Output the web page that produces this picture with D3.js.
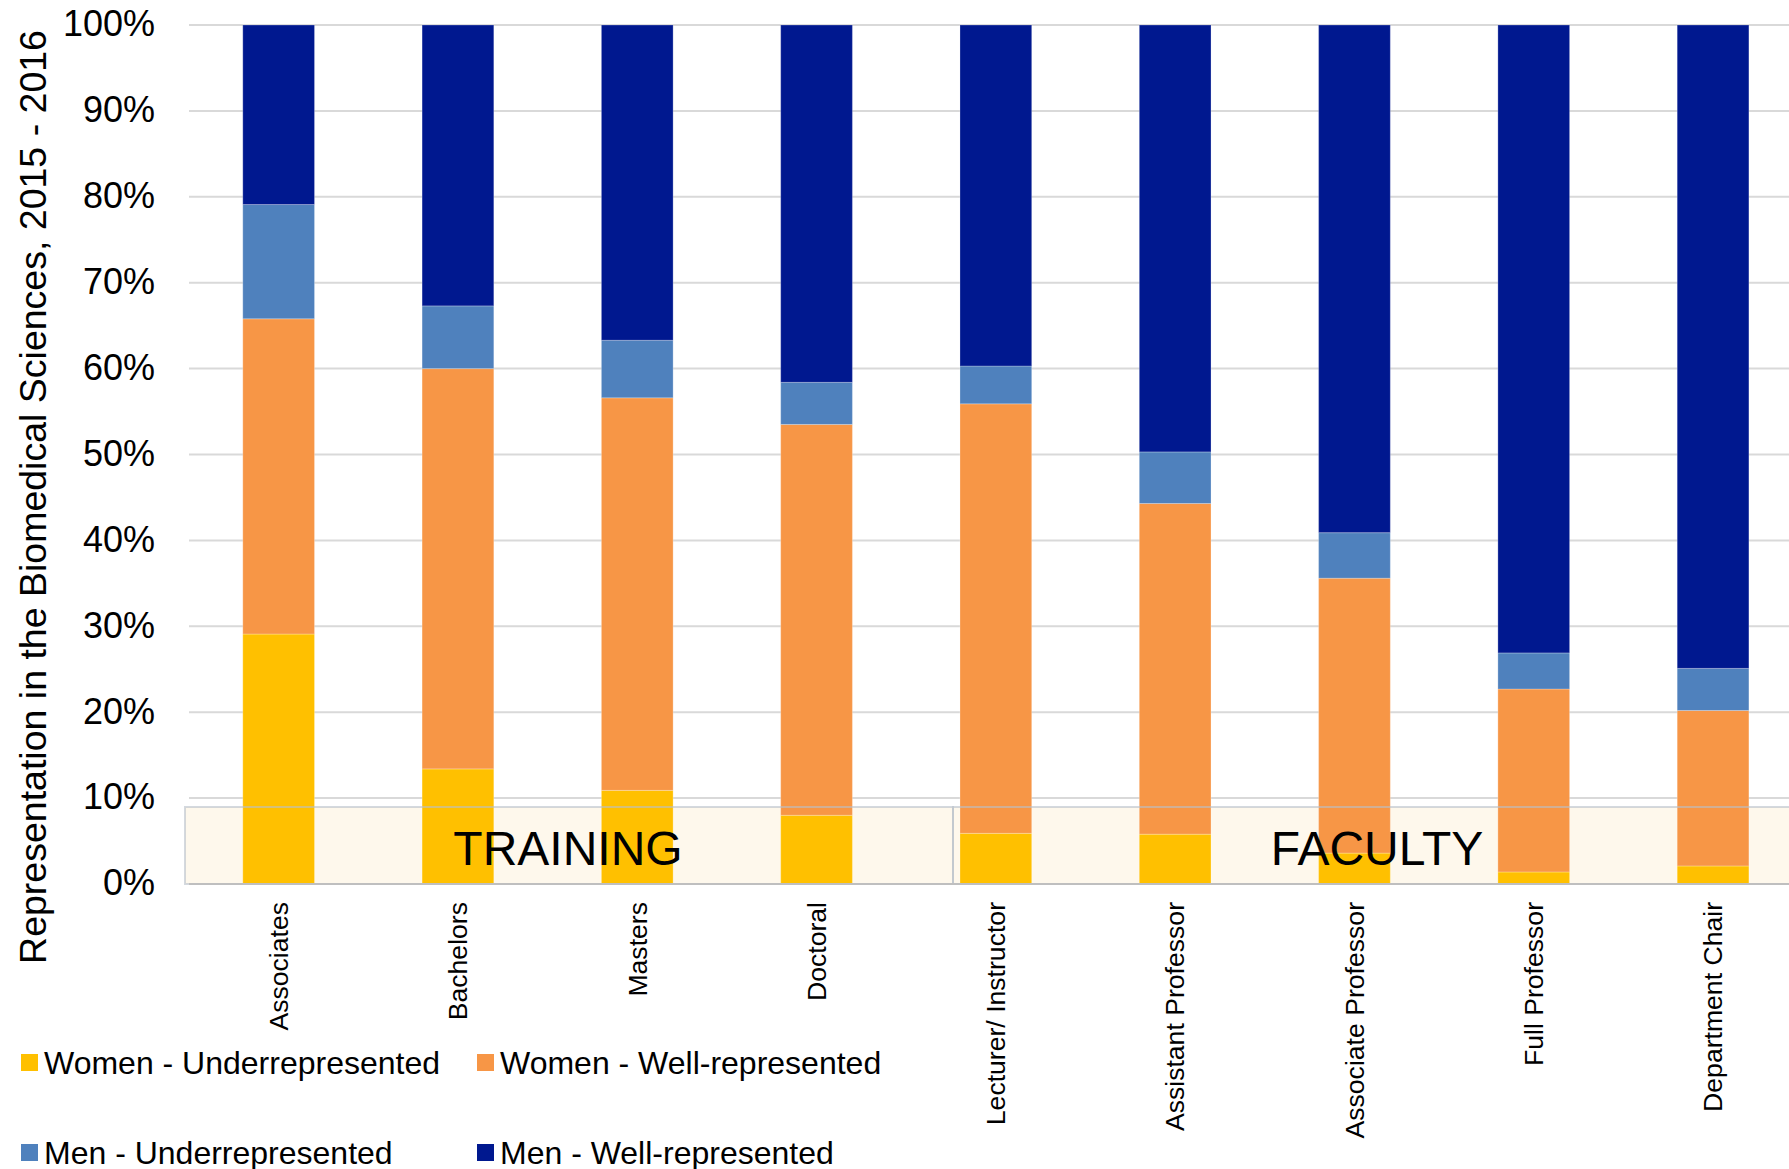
<!DOCTYPE html>
<meta charset="utf-8">
<style>
    body {
        margin: 0;
        overflow: hidden;
        background: #fff;
    }

    text {
      font-family: "Liberation Sans", Arial, sans-serif;
      fill: #000;
    }

</style>
<svg id="canvas" width="1789" height="1169"></svg>
<script src="https://d3js.org/d3.v7.min.js"></script>
<script>

    var categories = ["Associates", "Bachelors", "Masters", "Doctoral", "Lecturer/ Instructor",
                      "Assistant Professor", "Associate Professor", "Full Professor", "Department Chair"];

    // percent of each group (bottom to top)
    var women_under = [29.1, 13.4, 10.9, 8.0, 5.9, 5.8, 3.6, 1.4, 2.1];
    var women_well  = [36.7, 46.6, 45.7, 45.5, 50.0, 38.5, 32.0, 21.3, 18.1];
    var men_under   = [13.3, 7.3, 6.7, 4.9, 4.4, 6.0, 5.3, 4.2, 4.9];
    var men_well    = [20.9, 32.7, 36.7, 41.6, 39.7, 49.7, 59.1, 73.1, 74.9];

    var series_names = ["Women - Underrepresented", "Women - Well-represented",
                        "Men - Underrepresented", "Men - Well-represented"];
    var series_colors = ["#FFC000", "#F79646", "#4F81BD", "#00188F"];

    var y_ticks = [0, 10, 20, 30, 40, 50, 60, 70, 80, 90, 100];

    var groups = [
        {label: "TRAINING", x0: 185, x1: 953, tx: 568},
        {label: "FACULTY", x0: 953, x1: 1800, tx: 1377}
    ];

    var svg = d3.select("svg"),
        width = 1789,
        height = 1169;

    var plotLeft = 189, plotTop = 25, plotBottom = 884, boxTop = 807;

    var x = d3.scaleBand()
              .domain(categories)
              .range([plotLeft, plotLeft + 9 * 179.3])
              .paddingInner(0.6)
              .paddingOuter(0.3);

    var y = d3.scaleLinear()
              .domain([0, 100])
              .range([plotBottom, plotTop]);

    var table = categories.map(function(c, i) {
        return {cat: c, wu: women_under[i], ww: women_well[i], mu: men_under[i], mw: men_well[i]};
    });

    var stack = d3.stack().keys(["wu", "ww", "mu", "mw"]);
    var layers = stack(table);

    // gridlines
    svg.append("g")
       .selectAll("line")
       .data(y_ticks.filter(function(d) { return d > 0; }))
       .enter().append("line")
       .attr("x1", plotLeft)
       .attr("x2", width)
       .attr("y1", function(d) { return y(d); })
       .attr("y2", function(d) { return y(d); })
       .attr("stroke", "#d9d9d9")
       .attr("stroke-width", 2);

    // group boxes (fill behind bars)
    svg.append("g")
       .selectAll("rect")
       .data(groups)
       .enter().append("rect")
       .attr("x", function(d) { return d.x0; })
       .attr("y", boxTop)
       .attr("width", function(d) { return d.x1 - d.x0; })
       .attr("height", plotBottom - boxTop)
       .attr("fill", "#FEF8EC");

    // bars
    svg.append("g")
       .selectAll("g")
       .data(layers)
       .enter().append("g")
       .attr("fill", function(d, i) { return series_colors[i]; })
       .selectAll("rect")
       .data(function(d) { return d; })
       .enter().append("rect")
       .attr("x", function(d) { return x(d.data.cat); })
       .attr("width", x.bandwidth())
       .attr("y", function(d) { return y(d[1]); })
       .attr("height", function(d) { return y(d[0]) - y(d[1]); })
       .attr("stroke", "#ffffff")
       .attr("stroke-opacity", 0.25)
       .attr("stroke-width", 1);

    // group box outlines on top
    svg.append("g")
       .selectAll("rect")
       .data(groups)
       .enter().append("rect")
       .attr("x", function(d) { return d.x0; })
       .attr("y", boxTop)
       .attr("width", function(d) { return d.x1 - d.x0; })
       .attr("height", plotBottom - boxTop)
       .attr("fill", "none")
       .attr("stroke", "#b8bfca")
       .attr("stroke-opacity", 0.6)
       .attr("stroke-width", 2);

    // zero axis line
    svg.append("line")
       .attr("x1", plotLeft)
       .attr("x2", width)
       .attr("y1", y(0))
       .attr("y2", y(0))
       .attr("stroke", "#bfbfbf")
       .attr("stroke-width", 2);

    svg.append("g")
       .selectAll("text")
       .data(groups)
       .enter().append("text")
       .attr("x", function(d) { return d.tx; })
       .attr("y", 865)
       .attr("text-anchor", "middle")
       .style("font-size", "48px")
       .text(function(d) { return d.label; });

    // y axis labels
    var yAxis = d3.axisLeft(y)
                  .tickValues(y_ticks)
                  .tickSize(0)
                  .tickPadding(0)
                  .tickFormat(function(d) { return d + "%"; });

    var yg = svg.append("g")
                .attr("transform", "translate(155,0)")
                .call(yAxis);
    yg.select(".domain").remove();
    yg.selectAll("text")
      .attr("dy", "0.3em")
      .style("font-size", "36px")
      .style("font-family", "'Liberation Sans', Arial, sans-serif")
      .attr("fill", "#000");

    // x axis labels
    var xAxis = d3.axisBottom(x).tickSize(0).tickPadding(0);
    var xg = svg.append("g")
                .attr("transform", "translate(0," + 902 + ")")
                .call(xAxis);
    xg.select(".domain").remove();
    xg.selectAll("text")
      .attr("transform", "rotate(-90)")
      .attr("x", 0)
      .attr("y", 0)
      .attr("dy", "0.35em")
      .attr("text-anchor", "end")
      .style("font-size", "26.6px")
      .style("font-family", "'Liberation Sans', Arial, sans-serif")
      .attr("fill", "#000");

    // y axis title
    svg.append("text")
       .attr("transform", "translate(46,497) rotate(-90)")
       .attr("text-anchor", "middle")
       .style("font-size", "37.5px")
       .text("Representation in the Biomedical Sciences, 2015 - 2016");

    // legend
    var legend_pos = [[21, 1062.5], [477, 1062.5], [21, 1152.5], [477, 1152.5]];

    var legend = svg.append("g")
                    .selectAll("g")
                    .data(series_names)
                    .enter().append("g")
                    .attr("transform", function(d, i) {
                        return "translate(" + legend_pos[i][0] + "," + legend_pos[i][1] + ")";
                    });

    legend.append("rect")
          .attr("x", 0)
          .attr("y", -8.5)
          .attr("width", 17)
          .attr("height", 17)
          .attr("fill", function(d, i) { return series_colors[i]; });

    legend.append("text")
          .attr("x", 23)
          .attr("y", 0)
          .attr("dy", "0.35em")
          .style("font-size", "32px")
          .text(function(d) { return d; });

</script>
